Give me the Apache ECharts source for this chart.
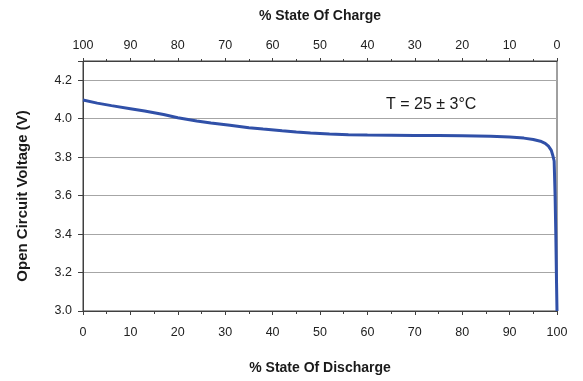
<!DOCTYPE html>
<html>
<head>
<meta charset="utf-8">
<script src="https://cdn.jsdelivr.net/npm/echarts@6/dist/echarts.min.js"></script>
<style>
html,body{margin:0;padding:0;background:#fff;}
#c{width:583px;height:381px;}
</style>
</head>
<body>
<div id="c"></div>
<script>
const dischargePct = [0, 3, 6, 10, 13, 17, 20, 24, 27, 31, 35, 38, 42, 45, 48, 52, 56, 60, 65, 70, 75, 80, 86, 90, 93, 95, 96.5, 97.5, 98.2, 98.8, 99.1, 99.4, 99.6, 99.75, 99.9, 100];
const voltage =      [4.097, 4.081, 4.068, 4.052, 4.040, 4.022, 4.005, 3.988, 3.978, 3.966, 3.953, 3.946, 3.937, 3.931, 3.926, 3.921, 3.917, 3.915, 3.914, 3.913, 3.912, 3.911, 3.909, 3.905, 3.899, 3.892, 3.883, 3.872, 3.857, 3.835, 3.81, 3.78, 3.6, 3.4, 3.15, 3.0];
const yTicks = [3.0, 3.2, 3.4, 3.6, 3.8, 4.0, 4.2];
const annotation = 'T = 25 ± 3°C';

const chart = echarts.init(document.getElementById('c'), null, {renderer: 'canvas'});
const font = '"Liberation Sans", Arial, sans-serif';
const axisDark = '#404040';
chart.setOption({
  animation: false,
  backgroundColor: '#ffffff',
  grid: {left: 83, right: 26, top: 61, bottom: 70, show: true, borderColor: axisDark, borderWidth: 1},
  xAxis: [{
    type: 'value', position: 'bottom', min: 0, max: 100, interval: 10,
    name: '% State Of Discharge', nameLocation: 'middle', nameGap: 50,
    nameTextStyle: {fontFamily: font, fontSize: 14, fontWeight: 'bold', color: '#1a1a1a'},
    axisLine: {show: true, lineStyle: {color: axisDark, width: 1}},
    axisTick: {show: true, length: 4, lineStyle: {color: axisDark}},
    minorTick: {show: true, splitNumber: 2, length: 3, lineStyle: {color: axisDark}},
    axisLabel: {fontFamily: font, fontSize: 12.5, color: '#222', margin: 15},
    splitLine: {show: false}
  }, {
    type: 'value', position: 'top', min: 0, max: 100, interval: 10, inverse: true,
    name: '% State Of Charge', nameLocation: 'middle', nameGap: 38,
    nameTextStyle: {fontFamily: font, fontSize: 14, fontWeight: 'bold', color: '#1a1a1a'},
    axisLine: {show: true, lineStyle: {color: axisDark, width: 1}},
    axisTick: {show: true, length: 3, lineStyle: {color: axisDark}},
    minorTick: {show: true, splitNumber: 2, length: 2, lineStyle: {color: axisDark}},
    axisLabel: {fontFamily: font, fontSize: 12.5, color: '#222', margin: 9},
    splitLine: {show: false}
  }],
  yAxis: [{
    type: 'value', min: 3.0, max: 4.3, interval: 0.2,
    name: 'Open Circuit Voltage (V)', nameLocation: 'middle', nameGap: 53, nameRotate: 90,
    nameTextStyle: {fontFamily: font, fontSize: 15, fontWeight: 'bold', color: '#1a1a1a', padding: [0, 0, 0, -20]},
    axisLine: {show: true, lineStyle: {color: axisDark, width: 1}},
    axisTick: {show: true, length: 5, lineStyle: {color: axisDark}},
    axisLabel: {fontFamily: font, fontSize: 12.5, color: '#222', margin: 11,
      formatter: function (v) { return yTicks.some(t => Math.abs(t - v) < 1e-6) ? v.toFixed(1) : ''; }},
    splitLine: {show: true, lineStyle: {color: '#a6a6a6', width: 1}}
  }],
  series: [{
    type: 'line', xAxisIndex: 0, yAxisIndex: 0,
    data: dischargePct.map((x, i) => [x, voltage[i]]),
    showSymbol: false, symbol: 'none',
    lineStyle: {color: '#3050a8', width: 3},
    clip: false
  }],
  graphic: [{
    type: 'text', left: 386, top: 97,
    style: {text: annotation, font: '16px ' + font, fill: '#1a1a1a'}
  }]
});
</script>
</body>
</html>
